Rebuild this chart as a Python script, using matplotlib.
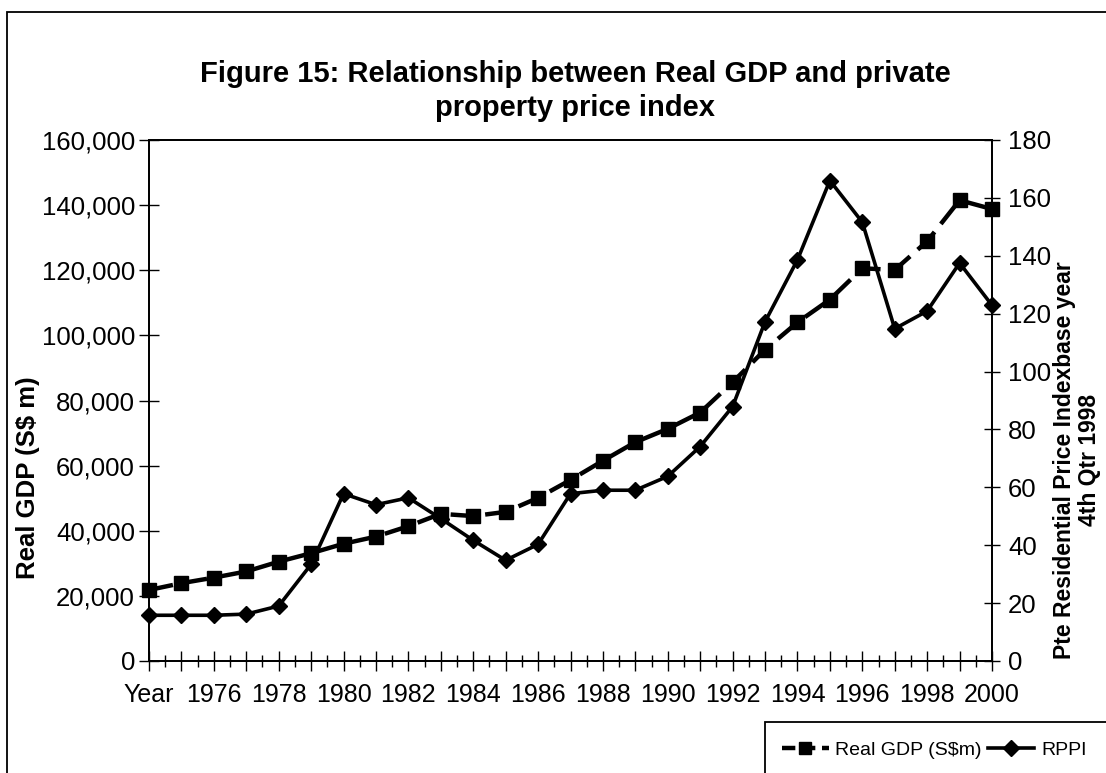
import matplotlib
matplotlib.use("Agg")
import matplotlib.pyplot as plt
import numpy as np
from matplotlib.ticker import FuncFormatter, FixedLocator
from matplotlib.lines import Line2D
from matplotlib.patches import Rectangle

plt.rcParams['font.family'] = ['Liberation Sans', 'DejaVu Sans']

categories = ["Year", "1975", "1976", "1977", "1978", "1979", "1980", "1981", "1982",
              "1983", "1984", "1985", "1986", "1987", "1988", "1989", "1990", "1991",
              "1992", "1993", "1994", "1995", "1996", "1997", "1998", "1999", "2000"]
real_gdp = [21800, 23900, 25600, 27500, 30500, 33100, 36000, 38200, 41400,
            45200, 44500, 45800, 50100, 55600, 61500, 67200, 71300, 76300,
            85600, 95600, 104000, 111000, 120600, 120100, 128900, 141500, 138800]
rppi = [15.8, 15.8, 15.8, 16.2, 19.0, 33.4, 57.8, 54.0, 56.4,
        49.2, 41.7, 34.8, 40.3, 57.8, 59.0, 59.0, 63.8, 74.1,
        87.9, 117.2, 138.6, 166.0, 151.6, 114.8, 120.9, 137.5, 122.9]
left_ticks = [0, 20000, 40000, 60000, 80000, 100000, 120000, 140000, 160000]
right_ticks = [0, 20, 40, 60, 80, 100, 120, 140, 160, 180]

W, H = 1106, 773
fig = plt.figure(figsize=(W / 100, H / 100), dpi=100)
fig.patch.set_facecolor('white')

# outer chart frame (top and left edges visible)
fig.add_artist(Rectangle((7 / W, -0.2), 1.2, (1 - 12 / H) + 0.2, transform=fig.transFigure,
                         fill=False, lw=1.3, ec='black', clip_on=False))
# legend frame running off the bottom-right edge
fig.add_artist(Rectangle((765 / W, -0.2), 1.0, (1 - 722 / H) + 0.2, transform=fig.transFigure,
                         fill=False, lw=1.3, ec='black', clip_on=False))

ax = fig.add_axes([149 / W, 1 - 661 / H, (992 - 149) / W, (661 - 140) / H])
x = np.arange(len(categories))

ax.plot(x, real_gdp, color='black', lw=3.2, dashes=(5.5, 2.3), marker='s', ms=9.5,
        zorder=3, clip_on=False)
ax.set_xlim(0, len(categories) - 1)
ax.set_ylim(0, 160000)
ax.yaxis.set_major_locator(FixedLocator(left_ticks))
ax.yaxis.set_major_formatter(FuncFormatter(lambda v, p: f"{int(v):,}"))

ax.set_xticks(x)
ax.set_xticklabels([c if i % 2 == 0 else "" for i, c in enumerate(categories)])
ax.set_xticks(x[:-1] + 0.5, minor=True)

ax2 = ax.twinx()
ax2.plot(x, rppi, color='black', lw=2.6, marker='D', ms=8.5, zorder=3, clip_on=False)
ax2.set_ylim(0, 180)
ax2.yaxis.set_major_locator(FixedLocator(right_ticks))
ax2.set_xlim(0, len(categories) - 1)

for a in (ax, ax2):
    for s in a.spines.values():
        s.set_linewidth(1.3)
        s.set_color('black')
    a.set_facecolor('none')

ax.tick_params(axis='x', which='major', direction='inout', length=14, width=1,
               labelsize=18, pad=9)
ax.tick_params(axis='x', which='minor', direction='inout', length=9, width=1)
ax.tick_params(axis='y', which='major', direction='inout', length=14, width=1,
               labelsize=18.5, pad=3)
ax2.tick_params(axis='y', which='major', direction='inout', length=11, width=1,
                labelsize=18.5, pad=6)

fig.text(575 / W, 1 - 91 / H,
         "Figure 15: Relationship between Real GDP and private\nproperty price index",
         ha='center', va='center', fontsize=21, fontweight='bold', linespacing=1.3)

fig.text(28 / W, 1 - 478 / H, "Real GDP (S$ m)", rotation=90, ha='center', va='center',
         fontsize=18.5, fontweight='bold')
fig.text(1077 / W, 1 - 460 / H, "Pte Residential Price Indexbase year\n4th Qtr 1998",
         rotation=90, ha='center', va='center', multialignment='center',
         fontsize=16.5, fontweight='bold', linespacing=1.1)

handles = [Line2D([], [], color='black', lw=3.2, dashes=(3, 1.5), marker='s', ms=9),
           Line2D([], [], color='black', lw=2.6, marker='D', ms=8)]
leg = fig.legend(handles, ["Real GDP (S$m)", "RPPI"], loc='center left',
                 bbox_to_anchor=(782 / W, 1 - 750 / H), borderaxespad=0, borderpad=0,
                 ncol=2, frameon=False, fontsize=14,
                 handlelength=2.4, handletextpad=0.35, columnspacing=0.3)

fig.savefig("out.png", dpi=100)
